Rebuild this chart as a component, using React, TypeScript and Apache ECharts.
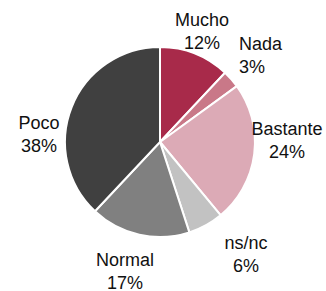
import React, { useEffect, useRef } from "react";
import * as echarts from "echarts";

const categories = ["Mucho", "Nada", "Bastante", "ns/nc", "Normal", "Poco"];
const values = [12, 3, 24, 6, 17, 38];
const colors = ["#a82a4a", "#c97888", "#dcaab6", "#c2c2c2", "#808080", "#404040"];
// label anchor positions (layout only)
const labelAnchors: { x: number; y: number; align: string }[] = [
  { x: 202, y: 31, align: "center" },
  { x: 239, y: 55, align: "left" },
  { x: 287, y: 140, align: "center" },
  { x: 246, y: 254, align: "center" },
  { x: 125, y: 271, align: "center" },
  { x: 39, y: 134, align: "center" },
];

export default function App() {
  const ref = useRef<HTMLDivElement>(null);
  useEffect(() => {
    if (!ref.current) return;
    const chart = echarts.init(ref.current, null, { renderer: "svg" });
    chart.setOption({
      animation: false,
      backgroundColor: "#ffffff",
      series: [
        {
          type: "pie",
          center: [160, 142],
          radius: 95,
          startAngle: 90,
          clockwise: true,
          avoidLabelOverlap: false,
          data: categories.map((name, i) => ({
            name,
            value: values[i],
            itemStyle: { color: colors[i] },
          })),
          itemStyle: { borderColor: "#ffffff", borderWidth: 2 },
          label: {
            show: true,
            position: "outside",
            formatter: (p: any) => `${p.name}\n${p.value}%`,
            color: "#111111",
            fontFamily: "Liberation Sans, Arial, sans-serif",
            fontSize: 18,
            lineHeight: 23,
          },
          labelLine: { show: false },
          labelLayout: (params: any) => {
            const a = labelAnchors[params.dataIndex];
            return { x: a.x, y: a.y, align: a.align, verticalAlign: "middle" };
          },
          emphasis: { disabled: true },
        },
      ],
    });
    return () => chart.dispose();
  }, []);
  return (
    <div
      ref={ref}
      style={{ position: "fixed", left: 0, top: 0, width: 326, height: 291 }}
    />
  );
}
